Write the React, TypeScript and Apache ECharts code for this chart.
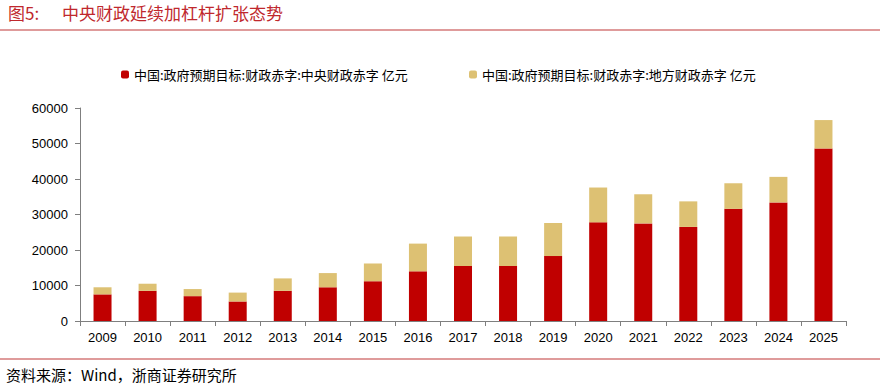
import React, { useEffect, useRef } from "react";
import * as echarts from "echarts";

const years = ["2009","2010","2011","2012","2013","2014","2015","2016","2017","2018","2019","2020","2021","2022","2023","2024","2025"];
const centralDeficit = [7500, 8500, 7000, 5500, 8500, 9500, 11200, 14000, 15500, 15500, 18300, 27800, 27500, 26500, 31600, 33400, 48600];
const localDeficit = [2000, 2000, 2000, 2500, 3500, 4000, 5000, 7800, 8300, 8300, 9300, 9800, 8200, 7200, 7200, 7200, 8000];
const seriesNames = ["中国:政府预期目标:财政赤字:中央财政赤字 亿元", "中国:政府预期目标:财政赤字:地方财政赤字 亿元"];
const figureLabel = "图5:";
const titleText = "中央财政延续加杠杆扩张态势";
const sourceText = "资料来源：Wind，浙商证券研究所";

export default function App() {
  const ref = useRef<HTMLDivElement>(null);
  useEffect(() => {
    document.body.style.margin = "0";
    const chart = echarts.init(ref.current!, null, { renderer: "svg" });
    const cjk = "'Noto Sans CJK SC', sans-serif";
    const axisColor = "#7f7f7f";
    chart.setOption({
      animation: false,
      backgroundColor: "#fff",
      grid: { left: 80, right: 34, top: 108, bottom: 69 },
      legend: [
        { data: [seriesNames[0]], left: 116, top: 63, itemWidth: 8, itemHeight: 8, itemGap: 6,
          textStyle: { fontFamily: cjk, fontSize: 13, color: "#000" } },
        { data: [seriesNames[1]], left: 464, top: 63, itemWidth: 8, itemHeight: 8, itemGap: 6,
          textStyle: { fontFamily: cjk, fontSize: 13, color: "#000" } },
      ],
      xAxis: {
        type: "category",
        data: years,
        axisLine: { lineStyle: { color: axisColor, width: 1 } },
        axisTick: { show: true, alignWithLabel: false, length: 5, lineStyle: { color: axisColor } },
        axisLabel: { fontFamily: "'Liberation Sans', Arial, sans-serif", fontSize: 13, color: "#000", margin: 10 },
      },
      yAxis: {
        type: "value",
        min: 0,
        max: 60000,
        interval: 10000,
        splitLine: { show: false },
        axisLine: { show: true, lineStyle: { color: axisColor, width: 1 } },
        axisTick: { show: true, length: 5, lineStyle: { color: axisColor } },
        axisLabel: { fontFamily: "'Liberation Sans', Arial, sans-serif", fontSize: 13, color: "#000", margin: 12,
          formatter: (v: number) => String(v) },
      },
      series: [
        { name: seriesNames[0], type: "bar", stack: "total", data: centralDeficit, barWidth: 18,
          itemStyle: { color: "#C00000" } },
        { name: seriesNames[1], type: "bar", stack: "total", data: localDeficit, barWidth: 18,
          itemStyle: { color: "#DDC173" } },
      ],
      graphic: [
        { type: "text", left: 8, top: 4, style: { text: figureLabel, fontFamily: cjk, fontSize: 17, fill: "#C0282D" } },
        { type: "text", left: 62, top: 4, style: { text: titleText, fontFamily: cjk, fontSize: 17, fill: "#C0282D" } },
        { type: "line", shape: { x1: 0, y1: 30, x2: 880, y2: 30 }, style: { stroke: "#D57A7A", lineWidth: 1.5 } },
        { type: "line", shape: { x1: 0, y1: 359, x2: 880, y2: 359 }, style: { stroke: "#D57A7A", lineWidth: 1.5 } },
        { type: "text", left: 6, top: 367, style: { text: sourceText, fontFamily: cjk, fontSize: 15, fill: "#000" } },
      ],
    });
    return () => chart.dispose();
  }, []);
  return <div ref={ref} style={{ width: 880, height: 390 }} />;
}
